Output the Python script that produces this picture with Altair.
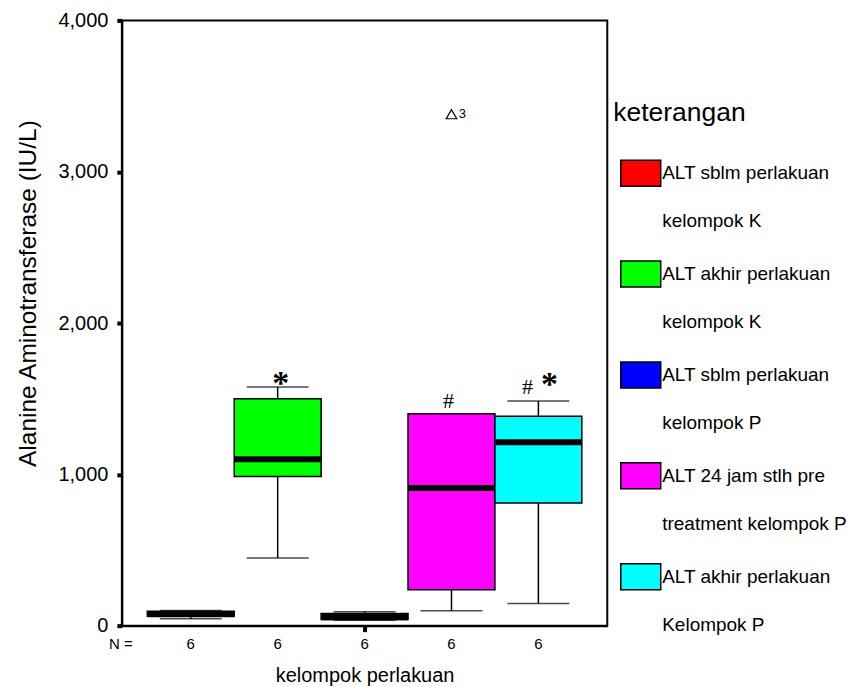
import altair as alt
import pandas as pd

# ---------------- data ----------------
groups = ["K_pre", "K_post", "P_pre", "P_24h", "P_post"]
legend_line1 = ["ALT sblm perlakuan", "ALT akhir perlakuan", "ALT sblm perlakuan",
                "ALT 24 jam stlh pre", "ALT akhir perlakuan"]
legend_line2 = ["kelompok K", "kelompok K", "kelompok P",
                "treatment kelompok P", "Kelompok P"]
box_colors = ["#FF0000", "#00FF00", "#0000FF", "#FF00FF", "#00FFFF"]
n_values = [6, 6, 6, 6, 6]
whisker_low = [45, 447, 35, 99, 147]
q1 = [62, 985, 40, 238, 810]
median = [75, 1100, 55, 909, 1212]
q3 = [95, 1500, 80, 1401, 1384]
whisker_high = [100, 1577, 92, 1401, 1485]

outlier_group = ["P_24h"]
outlier_value = [3380]
outlier_label = ["3"]

star_group = ["K_post", "P_post"]
star_value = [1634, 1628]
hash_group = ["P_24h", "P_post"]
hash_value = [1492, 1581]

y_ticks = [0, 1000, 2000, 3000, 4000]

# ---------------- tables ----------------
box_df = pd.DataFrame({"group": groups, "lo": whisker_low, "q1": q1, "med": median,
                       "q3": q3, "hi": whisker_high})
out_df = pd.DataFrame({"group": outlier_group, "value": outlier_value, "label": outlier_label})
star_df = pd.DataFrame({"group": star_group, "value": star_value, "label": ["*"] * len(star_group)})
hash_df = pd.DataFrame({"group": hash_group, "value": hash_value, "label": ["#"] * len(hash_group)})
leg_df = pd.DataFrame({"group": groups, "line1": legend_line1, "line2": legend_line2})

W, H = 486, 606
FONT = "Liberation Sans"

label_expr = ""
for g, n in zip(groups, n_values):
    label_expr += f"datum.value === '{g}' ? '{n}' : "
label_expr += "''"

x_axis = alt.Axis(
    title="kelompok perlakuan", values=groups, labelExpr=label_expr, labelAngle=0,
    labelFontSize=15, labelPadding=5, labelColor="black",
    tickSize=6, tickWidth=4,
    tickColor={"condition": {"test": f"datum.value === '{groups[2]}'", "value": "black"},
               "value": "transparent"},
    domainColor="black", domainWidth=2,
    titleFontSize=20, titleFontWeight="normal", titleColor="black", titlePadding=14,
    grid=False,
)
x_scale = alt.Scale(type="band", domain=groups, paddingInner=0, paddingOuter=0.293)
x_enc = alt.X("group:N", scale=x_scale, axis=x_axis)

y_scale = alt.Scale(domain=[0, 4000], nice=False, zero=True)
y_axis = alt.Axis(
    title="Alanine Aminotransferase (IU/L)", values=y_ticks,
    labelExpr="format(datum.value, ',')",
    labelFontSize=20, labelPadding=9, labelColor="black",
    tickSize=5, tickWidth=4, tickColor="black",
    domainColor="black", domainWidth=2, grid=False,
    titleFontSize=24.5, titleFontWeight="normal", titleColor="black",
    titlePadding=17.5, titleY=273,
)

base = alt.Chart(box_df)
color_enc = alt.Color("group:N", scale=alt.Scale(domain=groups, range=box_colors), legend=None)

whisk_low = base.mark_rule(color="black", strokeWidth=1.5).encode(
    x=x_enc, y=alt.Y("lo:Q", scale=y_scale, axis=y_axis), y2="q1:Q")
whisk_high = base.mark_rule(color="black", strokeWidth=1.5).encode(
    x=x_enc, y=alt.Y("q3:Q", scale=y_scale, axis=y_axis), y2="hi:Q")
cap_low = base.mark_tick(color="black", size=62, thickness=1.5).encode(
    x=x_enc, y=alt.Y("lo:Q", scale=y_scale, axis=y_axis))
cap_high = base.mark_tick(color="black", size=62, thickness=1.5).encode(
    x=x_enc, y=alt.Y("hi:Q", scale=y_scale, axis=y_axis))
boxes = base.mark_bar(stroke="black", strokeWidth=1.5, opacity=1).encode(
    x=x_enc, y=alt.Y("q1:Q", scale=y_scale, axis=y_axis), y2="q3:Q", color=color_enc)
medians = base.mark_tick(color="black", size=86, thickness=6, opacity=1).encode(
    x=x_enc, y=alt.Y("med:Q", scale=y_scale, axis=y_axis))

outliers = alt.Chart(out_df).mark_point(
    shape="triangle-up", filled=False, color="black", size=110, strokeWidth=1.2, opacity=1
).encode(x=x_enc, y=alt.Y("value:Q", scale=y_scale, axis=y_axis))
outlier_txt = alt.Chart(out_df).mark_text(
    dx=11, fontSize=13, font=FONT, color="black", align="center", baseline="middle"
).encode(x=x_enc, y=alt.Y("value:Q", scale=y_scale, axis=y_axis), text="label:N")

stars = alt.Chart(star_df).mark_text(
    font="Liberation Serif", fontWeight="bold", fontSize=34, color="black",
    align="center", baseline="middle", dy=6,
    dx=alt.expr(f"datum.group === '{groups[4]}' ? 11 : 3"),
).encode(x=x_enc, y=alt.Y("value:Q", scale=y_scale, axis=y_axis), text="label:N")
hashes = alt.Chart(hash_df).mark_text(
    font="Liberation Serif", fontSize=22, color="black",
    align="center", baseline="middle", dy=1,
    dx=alt.expr(f"datum.group === '{groups[4]}' ? -11 : -3"),
).encode(x=x_enc, y=alt.Y("value:Q", scale=y_scale, axis=y_axis), text="label:N")

n_label = alt.Chart(pd.DataFrame({"t": ["N ="]})).mark_text(
    fontSize=15, font=FONT, color="black", align="center", baseline="top"
).encode(x=alt.value(-1), y=alt.value(H + 11), text="t:N")

main = alt.layer(
    whisk_low, whisk_high, cap_low, cap_high, boxes, medians,
    outliers, outlier_txt, stars, hashes, n_label
).properties(
    width=W, height=H,
    view=alt.ViewBackground(stroke="black", strokeWidth=2),
)

# ---------------- legend panel ----------------
leg_scale = alt.Scale(type="point", domain=groups, padding=1.0606, align=0.876)
ly = alt.Y("group:N", scale=leg_scale, axis=None)
lbase = alt.Chart(leg_df)
leg_sym = lbase.mark_point(
    shape="M-1,-0.65L1,-0.65L1,0.65L-1,0.65Z", size=1600, filled=True,
    stroke="black", strokeWidth=1.5, opacity=1, yOffset=-24
).encode(x=alt.value(27.5), y=ly,
         fill=alt.Fill("group:N", scale=alt.Scale(domain=groups, range=box_colors), legend=None))
leg_t1 = lbase.mark_text(
    align="left", baseline="middle", fontSize=19, font=FONT, color="black", yOffset=-24
).encode(x=alt.value(49), y=ly, text="line1:N")
leg_t2 = lbase.mark_text(
    align="left", baseline="middle", fontSize=19, font=FONT, color="black", yOffset=24
).encode(x=alt.value(49), y=ly, text="line2:N")
leg_title = alt.Chart(pd.DataFrame({"t": ["keterangan"]})).mark_text(
    align="left", baseline="middle", fontSize=26.5, font=FONT, color="black", yOffset=-84
).encode(x=alt.value(0), y=alt.datum(groups[0], scale=leg_scale, type="nominal"), text="t:N")

legend = alt.layer(leg_sym, leg_t1, leg_t2, leg_title).properties(width=234, height=H)

chart = alt.hconcat(main, legend, spacing=4).properties(
    padding={"left": 6, "top": 1, "right": 0, "bottom": 0}
).configure(font=FONT, view=alt.ViewConfig(stroke="transparent"))

chart.save("out.html", embed_options={"renderer": "svg", "actions": False})
